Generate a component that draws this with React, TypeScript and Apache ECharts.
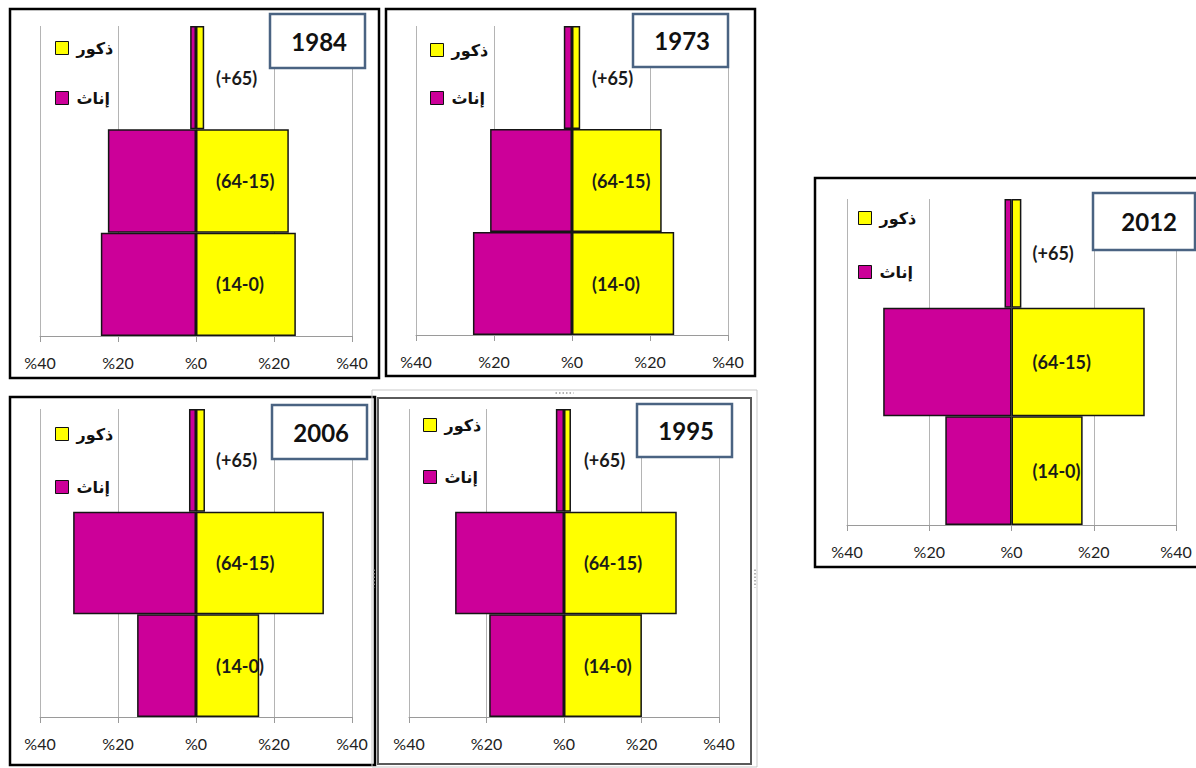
import React, { useEffect, useRef } from "react";
import * as echarts from "echarts";

// ---- data ----
const AGE_GROUPS = ["(14-0)", "(64-15)", "(+65)"];
const YEAR_LABELS = ["1984", "1973", "2012", "2006", "1995"];
const MALE_NAME = "ذكور";
const FEMALE_NAME = "إناث";
const X_TICKS = [-40, -20, 0, 20, 40];

const MALES_1984 = [25.6, 23.8, 2.1];
const FEMALES_1984 = [24.4, 22.6, 1.5];
const MALES_1973 = [26.2, 23.0, 2.1];
const FEMALES_1973 = [25.4, 21.0, 2.1];
const MALES_2012 = [17.3, 32.4, 2.4];
const FEMALES_2012 = [16.1, 31.2, 1.7];
const MALES_2006 = [16.2, 32.8, 2.3];
const FEMALES_2006 = [15.1, 31.5, 1.8];
const MALES_1995 = [20.1, 29.1, 1.8];
const FEMALES_1995 = [19.3, 28.1, 2.1];

const LABEL_X = 5; // value position where age-group labels start

// ---- layout ----
const PANELS = [
  {
    year: YEAR_LABELS[0], males: MALES_1984, females: FEMALES_1984,
    grid: { left: 40, top: 26, width: 312, height: 310 },
    legend: { left: 55, top: 40, gap: 34 },
    box: { x: 270, y: 14, w: 95, h: 54 },
    frame: { x: 10, y: 9, w: 369, h: 369, kind: "black" },
  },
  {
    year: YEAR_LABELS[1], males: MALES_1973, females: FEMALES_1973,
    grid: { left: 416, top: 26, width: 312, height: 309 },
    legend: { left: 430, top: 42, gap: 32 },
    box: { x: 633, y: 14, w: 95, h: 53 },
    frame: { x: 386, y: 9, w: 369, h: 367, kind: "black" },
  },
  {
    year: YEAR_LABELS[2], males: MALES_2012, females: FEMALES_2012,
    grid: { left: 847, top: 199, width: 329, height: 326 },
    legend: { left: 858, top: 210, gap: 38 },
    box: { x: 1093, y: 193, w: 102, h: 57 },
    frame: { x: 815, y: 178, w: 385, h: 389, kind: "black" },
  },
  {
    year: YEAR_LABELS[3], males: MALES_2006, females: FEMALES_2006,
    grid: { left: 40, top: 409, width: 312, height: 308 },
    legend: { left: 55, top: 426, gap: 37 },
    box: { x: 272, y: 405, w: 95, h: 54 },
    frame: { x: 10, y: 397, w: 365, h: 368, kind: "black" },
  },
  {
    year: YEAR_LABELS[4], males: MALES_1995, females: FEMALES_1995,
    grid: { left: 409, top: 409, width: 310, height: 308 },
    legend: { left: 423, top: 417, gap: 36 },
    box: { x: 637, y: 404, w: 95, h: 53 },
    frame: { x: 372, y: 390, w: 385, h: 377, kind: "grey" },
  },
];

const YELLOW = "#FFFF00";
const MAGENTA = "#CC0099";
const LATIN_FONT = "Lato, 'Open Sans', sans-serif";
const ARABIC_FONT = "'DejaVu Sans', sans-serif";

function buildOption() {
  const grid: any[] = [];
  const xAxis: any[] = [];
  const yAxis: any[] = [];
  const series: any[] = [];
  const legend: any[] = [];
  const graphic: any[] = [];

  PANELS.forEach((p, i) => {
    grid.push({ ...p.grid, containLabel: false });
    xAxis.push({
      type: "value",
      gridIndex: i,
      min: X_TICKS[0],
      max: X_TICKS[X_TICKS.length - 1],
      interval: 20,
      axisLine: { show: true, lineStyle: { color: "#9a9a9a", width: 1 } },
      axisTick: { show: true, length: 6, lineStyle: { color: "#9a9a9a" } },
      axisLabel: {
        margin: 18,
        fontFamily: LATIN_FONT,
        fontSize: 16,
        color: "#222",
        formatter: (v: number) => "%" + Math.abs(v),
      },
      splitLine: { show: true, lineStyle: { color: "#b4b4b4", width: 1 } },
    });
    yAxis.push({
      type: "category",
      gridIndex: i,
      data: AGE_GROUPS,
      boundaryGap: true,
      axisLine: { show: false },
      axisTick: { show: false },
      axisLabel: { show: false },
      splitLine: { show: false },
    });
    const barStyle = { borderColor: "#151515", borderWidth: 1.5 };
    series.push({
      type: "bar",
      name: FEMALE_NAME,
      xAxisIndex: i,
      yAxisIndex: i,
      stack: "p" + i,
      barCategoryGap: "0%",
      data: p.females.map((v) => -v),
      itemStyle: { color: MAGENTA, ...barStyle },
    });
    series.push({
      type: "bar",
      name: MALE_NAME,
      xAxisIndex: i,
      yAxisIndex: i,
      stack: "p" + i,
      barCategoryGap: "0%",
      data: p.males,
      itemStyle: { color: YELLOW, ...barStyle },
    });
    series.push({
      type: "scatter",
      name: "labels" + i,
      xAxisIndex: i,
      yAxisIndex: i,
      symbolSize: 1,
      itemStyle: { color: "#000", opacity: 0 },
      data: AGE_GROUPS.map((g) => [LABEL_X, g]),
      label: {
        show: true,
        position: "right",
        distance: 0,
        formatter: (prm: any) => prm.value[1],
        fontFamily: LATIN_FONT,
        fontWeight: "bold",
        fontSize: 18,
        color: "#1a1a1a",
        opacity: 1,
      },
      z: 5,
    });
    legend.push({
      left: p.legend.left,
      top: p.legend.top,
      orient: "vertical",
      padding: 0,
      itemWidth: 13,
      itemHeight: 13,
      itemGap: p.legend.gap,
      icon: "rect",
      data: [MALE_NAME, FEMALE_NAME],
      itemStyle: { borderColor: "#111", borderWidth: 1 },
      textStyle: {
        fontFamily: ARABIC_FONT,
        fontWeight: "bold",
        fontSize: 16,
        lineHeight: 14,
        color: "#111",
        padding: [0, 0, 0, 3],
      },
      selectedMode: false,
    });

    // frame
    const f = p.frame;
    if (f.kind === "black") {
      graphic.push({
        type: "rect",
        shape: { x: f.x, y: f.y, width: f.w, height: f.h },
        style: { fill: "none", stroke: "#000", lineWidth: 2.5 },
        z: 10,
        silent: true,
      });
    } else {
      graphic.push({
        type: "rect",
        shape: { x: f.x, y: f.y, width: f.w, height: f.h },
        style: { fill: "none", stroke: "#c9c9c9", lineWidth: 1 },
        z: 10,
        silent: true,
      });
      graphic.push({
        type: "rect",
        shape: { x: f.x + 6, y: f.y + 8, width: f.w - 12, height: f.h - 11 },
        style: { fill: "none", stroke: "#5a5a5a", lineWidth: 2 },
        z: 10,
        silent: true,
      });
      const cx = f.x + f.w / 2;
      const cy = f.y + f.h / 2;
      graphic.push({
        type: "line",
        shape: { x1: cx - 9, y1: f.y + 3, x2: cx + 9, y2: f.y + 3 },
        style: { stroke: "#9a9a9a", lineWidth: 1.5, lineDash: [1.5, 2] },
        z: 10,
        silent: true,
      });
      graphic.push({
        type: "line",
        shape: { x1: f.x + 2, y1: cy - 9, x2: f.x + 2, y2: cy + 9 },
        style: { stroke: "#9a9a9a", lineWidth: 1.5, lineDash: [1.5, 2] },
        z: 10,
        silent: true,
      });
      graphic.push({
        type: "line",
        shape: { x1: f.x + f.w - 2, y1: cy - 9, x2: f.x + f.w - 2, y2: cy + 9 },
        style: { stroke: "#9a9a9a", lineWidth: 1.5, lineDash: [1.5, 2] },
        z: 10,
        silent: true,
      });
    }

    // year box
    const b = p.box;
    graphic.push({
      type: "rect",
      shape: { x: b.x, y: b.y, width: b.w, height: b.h },
      style: { fill: "#fff", stroke: "#4a6382", lineWidth: 2.5 },
      z: 11,
      silent: true,
    });
    graphic.push({
      type: "text",
      x: b.x + b.w - 18,
      y: b.y + b.h / 2,
      style: {
        text: p.year,
        fontFamily: LATIN_FONT,
        fontWeight: "bold",
        fontSize: 24,
        fill: "#111",
        align: "right",
        verticalAlign: "middle",
      },
      z: 12,
      silent: true,
    });
  });

  return {
    animation: false,
    backgroundColor: "#fff",
    grid,
    xAxis,
    yAxis,
    series,
    legend,
    graphic,
  };
}

export default function App() {
  const ref = useRef<HTMLDivElement>(null);
  useEffect(() => {
    if (!ref.current) return;
    const chart = echarts.init(ref.current, null, { renderer: "svg" });
    chart.setOption(buildOption() as any);
    return () => chart.dispose();
  }, []);
  return (
    <div
      ref={ref}
      style={{ position: "fixed", left: 0, top: 0, width: 1196, height: 768, background: "#fff" }}
    />
  );
}
